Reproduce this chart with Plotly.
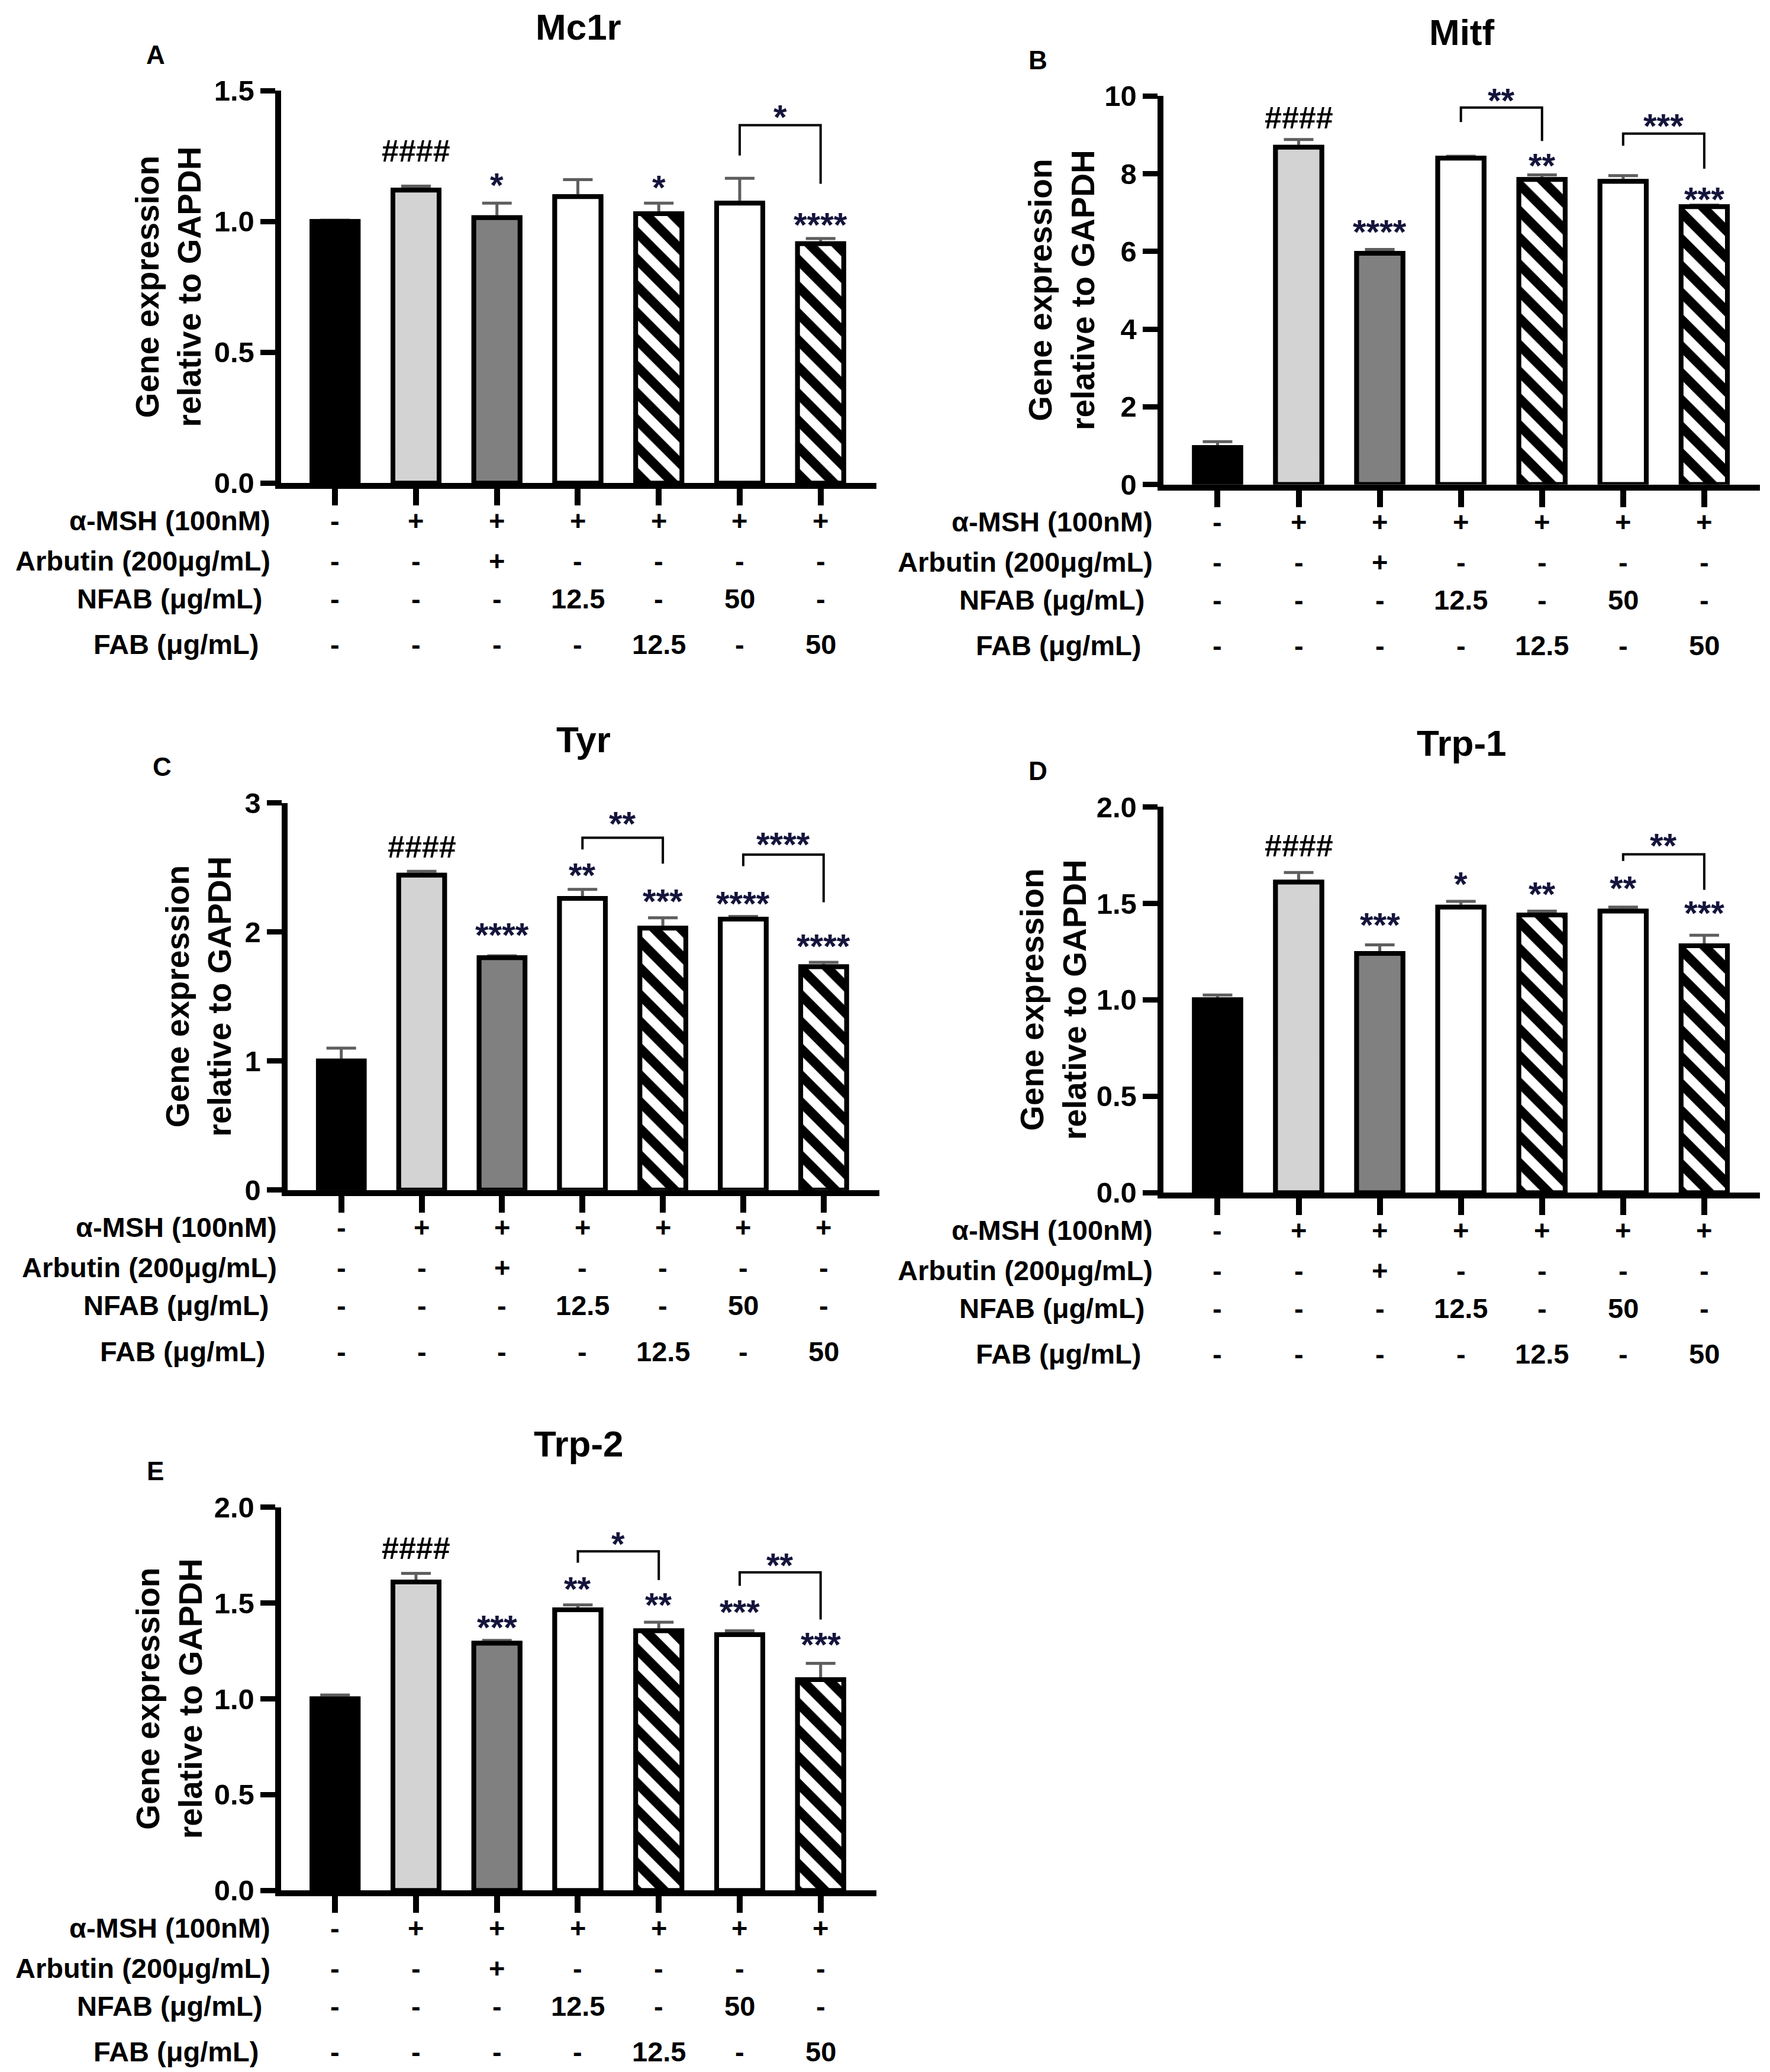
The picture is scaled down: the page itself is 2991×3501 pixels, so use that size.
import plotly.graph_objects as go

# Treatment groups (7 bars per panel) and the table printed under each axis
groups = [0, 1, 2, 3, 4, 5, 6]
row_names = ["α-MSH (100nM)", "Arbutin (200μg/mL)", "NFAB (μg/mL)", "FAB (μg/mL)"]
msh_row = ["-", "+", "+", "+", "+", "+", "+"]
arbutin_row = ["-", "-", "+", "-", "-", "-", "-"]
nfab_row = ["-", "-", "-", "12.5", "-", "50", "-"]
fab_row = ["-", "-", "-", "-", "12.5", "-", "50"]

genes = ["Mc1r", "Mitf", "Tyr", "Trp-1", "Trp-2"]
panel_letters = ["A", "B", "C", "D", "E"]

# Gene expression relative to GAPDH (mean, error)
mc1r_mean = [1.0, 1.12, 1.015, 1.095, 1.03, 1.07, 0.915]
mc1r_err = [0.005, 0.015, 0.055, 0.065, 0.04, 0.095, 0.02]
mitf_mean = [0.95, 8.68, 5.95, 8.4, 7.85, 7.8, 7.15]
mitf_err = [0.15, 0.2, 0.1, 0.05, 0.12, 0.15, 0.04]
tyr_mean = [1.0, 2.44, 1.8, 2.26, 2.03, 2.1, 1.73]
tyr_err = [0.1, 0.03, 0.015, 0.07, 0.08, 0.02, 0.035]
trp1_mean = [1.0, 1.61, 1.24, 1.48, 1.44, 1.46, 1.28]
trp1_err = [0.025, 0.05, 0.045, 0.03, 0.02, 0.02, 0.055]
trp2_mean = [1.0, 1.61, 1.29, 1.465, 1.355, 1.335, 1.1]
trp2_err = [0.02, 0.045, 0.015, 0.025, 0.045, 0.02, 0.085]

# significance marks above bars and their heights (data units)
mc1r_marks = ["", "####", "*", "", "*", "", "****"]
mc1r_mark_y = [None, 1.27, 1.17, None, 1.16, None, 1.017]
mitf_marks = ["", "####", "****", "", "**", "", "***"]
mitf_mark_y = [None, 9.44, 6.7, None, 8.41, None, 7.55]
tyr_marks = ["", "####", "****", "**", "***", "****", "****"]
tyr_mark_y = [None, 2.66, 2.04, 2.5, 2.3, 2.28, 1.95]
trp1_marks = ["", "####", "***", "*", "**", "**", "***"]
trp1_mark_y = [None, 1.80, 1.43, 1.64, 1.59, 1.62, 1.49]
trp2_marks = ["", "####", "***", "**", "**", "***", "***"]
trp2_mark_y = [None, 1.785, 1.414, 1.616, 1.533, 1.495, 1.324]

# brackets: (left bar, right bar, top, left leg end, right leg end, label, label height)
mc1r_brackets = [(5, 6, 1.368, 1.252, 1.144, "*", 1.43)]
mitf_brackets = [(3, 4, 9.7, 9.33, 8.84, "**", 10.09), (5, 6, 9.03, 8.72, 8.13, "***", 9.44)]
tyr_brackets = [(3, 4, 2.73, 2.64, 2.53, "**", 2.9), (5, 6, 2.6, 2.51, 2.23, "****", 2.74)]
trp1_brackets = [(5, 6, 1.754, 1.72, 1.57, "**", 1.84)]
trp2_brackets = [(3, 4, 1.77, 1.71, 1.62, "*", 1.85), (5, 6, 1.66, 1.59, 1.414, "**", 1.74)]

# bar look per group
bar_fill = ["#000000", "#d3d3d3", "#808080", "#ffffff", "#ffffff", "#ffffff", "#ffffff"]
bar_hatch = [False, False, False, False, True, False, True]

FONT = "Liberation Sans, Arial, sans-serif"
STAR_COLOR = "#14143c"
ERR_COLOR = "#5e5e5e"

# the page comes out slightly squeezed vertically; these undo it
VS = 1.0156


def vdom(bottom_px, top_px):
    # panel edges measured on a 1568 px tall copy of the reference
    return [1 - (bottom_px - 15.05) / 0.9846 / 1568, 1 - (top_px - 15.05) / 0.9846 / 1568]


panels = [
    dict(mean=mc1r_mean, err=mc1r_err, marks=mc1r_marks, mark_y=mc1r_mark_y, brackets=mc1r_brackets,
         xdom=[0.1560, 0.4925], ydom=vdom(365, 68), yrange=[0, 1.5], dtick=0.5, fmt=".1f", title_dx=190),
    dict(mean=mitf_mean, err=mitf_err, marks=mitf_marks, mark_y=mitf_mark_y, brackets=mitf_brackets,
         xdom=[0.6545, 0.9918], ydom=vdom(366, 72), yrange=[0, 10], dtick=2, fmt="d", title_dx=171),
    dict(mean=tyr_mean, err=tyr_err, marks=tyr_marks, mark_y=tyr_mark_y, brackets=tyr_brackets,
         xdom=[0.1597, 0.4940], ydom=vdom(900, 607), yrange=[0, 3], dtick=1, fmt="d", title_dx=150),
    dict(mean=trp1_mean, err=trp1_err, marks=trp1_marks, mark_y=trp1_mark_y, brackets=trp1_brackets,
         xdom=[0.6545, 0.9918], ydom=vdom(902, 610), yrange=[0, 2], dtick=0.5, fmt=".1f", title_dx=185),
    dict(mean=trp2_mean, err=trp2_err, marks=trp2_marks, mark_y=trp2_mark_y, brackets=trp2_brackets,
         xdom=[0.1560, 0.4925], ydom=vdom(1430, 1140), yrange=[0, 2], dtick=0.5, fmt=".1f", title_dx=188),
]

rows = [msh_row, arbutin_row, nfab_row, fab_row]
row_dy = [62, 129, 192, 268]
row_dx = [-16, -16, -30, -36]

BAR_W = 0.57
OUTLINE = dict(color="black", width=8)
STAR_FONT = dict(size=58, weight="bold", color=STAR_COLOR)

fig = go.Figure()
annotations = []
shapes = []
layout = dict(
    width=2991, height=3501,
    margin=dict(l=0, r=0, t=0, b=0),
    paper_bgcolor="white", plot_bgcolor="rgba(0,0,0,0)",
    barmode="overlay", showlegend=False,
    font=dict(family=FONT, color="black"),
)


def note(text, xref, yref, x, y, font, dx=0, dy=0, xanchor="center", angle=0):
    return dict(text=text, xref=xref, yref=yref, x=x, y=y, xshift=dx, yshift=dy * VS,
                xanchor=xanchor, yanchor="middle", textangle=angle, showarrow=False, font=font)


for k, p in enumerate(panels, start=1):
    xa = "x" if k == 1 else f"x{k}"
    ya = "y" if k == 1 else f"y{k}"
    ymax = p["yrange"][1]

    # bottom layer carries the error bars; the bars on top hide the lower caps
    fig.add_trace(go.Bar(
        x=groups, y=p["mean"], xaxis=xa, yaxis=ya, width=BAR_W,
        marker=dict(color="white", line=OUTLINE),
        error_y=dict(type="data", symmetric=False, array=p["err"], arrayminus=[0] * 7,
                     color=ERR_COLOR, thickness=5, width=25),
        hoverinfo="skip",
    ))
    solid = [i for i in groups if not bar_hatch[i]]
    fig.add_trace(go.Bar(
        x=solid, y=[p["mean"][i] for i in solid], xaxis=xa, yaxis=ya, width=BAR_W,
        marker=dict(color=[bar_fill[i] for i in solid], line=OUTLINE),
    ))
    hatched = [i for i in groups if bar_hatch[i]]
    fig.add_trace(go.Bar(
        x=hatched, y=[p["mean"][i] for i in hatched], xaxis=xa, yaxis=ya, width=BAR_W,
        marker=dict(color="white", line=OUTLINE,
                    pattern=dict(shape="\\", fgcolor="#000000", bgcolor="#ffffff", fgopacity=1,
                                 size=32, solidity=0.5)),
    ))

    xname = "xaxis" if k == 1 else f"xaxis{k}"
    yname = "yaxis" if k == 1 else f"yaxis{k}"
    layout[xname] = dict(
        domain=p["xdom"], range=[-0.67, 6.69], anchor=ya,
        showline=True, linewidth=10, linecolor="black",
        ticks="outside", ticklen=28, tickwidth=10, tickcolor="black",
        tickvals=groups, showticklabels=False, showgrid=False, zeroline=False,
    )
    layout[yname] = dict(
        domain=p["ydom"], range=p["yrange"], anchor=xa,
        showline=True, linewidth=10, linecolor="black",
        ticks="outside", ticklen=25, tickwidth=9, tickcolor="black",
        tick0=0, dtick=p["dtick"], tickformat=p["fmt"],
        tickfont=dict(family=FONT, size=49, color="black", weight="bold"),
        showgrid=False, zeroline=False,
    )

    xd = f"{xa} domain"
    yd = f"{ya} domain"
    annotations.append(note(genes[k - 1], xd, yd, 0.5, 1, dict(size=62, weight="bold"), dy=106))
    annotations.append(note(panel_letters[k - 1], xd, yd, 0, 1, dict(size=44, weight="bold"),
                            dx=-212, dy=60))
    annotations.append(note("Gene expression<br>relative to GAPDH", xd, yd, 0, 0.5,
                            dict(size=55, weight="bold"), dx=-p["title_dx"], angle=-90))

    for r, row in enumerate(rows):
        annotations.append(note(row_names[r], xd, yd, 0, 0, dict(size=47, weight="bold"),
                                dx=row_dx[r], dy=-row_dy[r], xanchor="right"))
        for i in groups:
            annotations.append(note(row[i], xa, yd, i, 0, dict(size=47, weight="bold"), dy=-row_dy[r]))

    for i in groups:
        mark = p["marks"][i]
        if not mark:
            continue
        if mark.startswith("#"):
            annotations.append(note(mark, xa, yd, i, p["mark_y"][i] / ymax,
                                    dict(size=52, weight="bold", color="black")))
        else:
            annotations.append(note(mark, xa, yd, i, p["mark_y"][i] / ymax, STAR_FONT, dy=-13))

    for (i, j, top, left_end, right_end, label, label_y) in p["brackets"]:
        shapes.append(dict(type="path", xref=xa, yref=ya,
                           path=f"M {i},{left_end} V {top} H {j} V {right_end}",
                           line=dict(color="black", width=4)))
        annotations.append(note(label, xa, yd, (i + j) / 2, label_y / ymax, STAR_FONT, dy=-13))

layout["annotations"] = annotations
layout["shapes"] = shapes
fig.update_layout(**layout)

fig.write_html("out.html")
